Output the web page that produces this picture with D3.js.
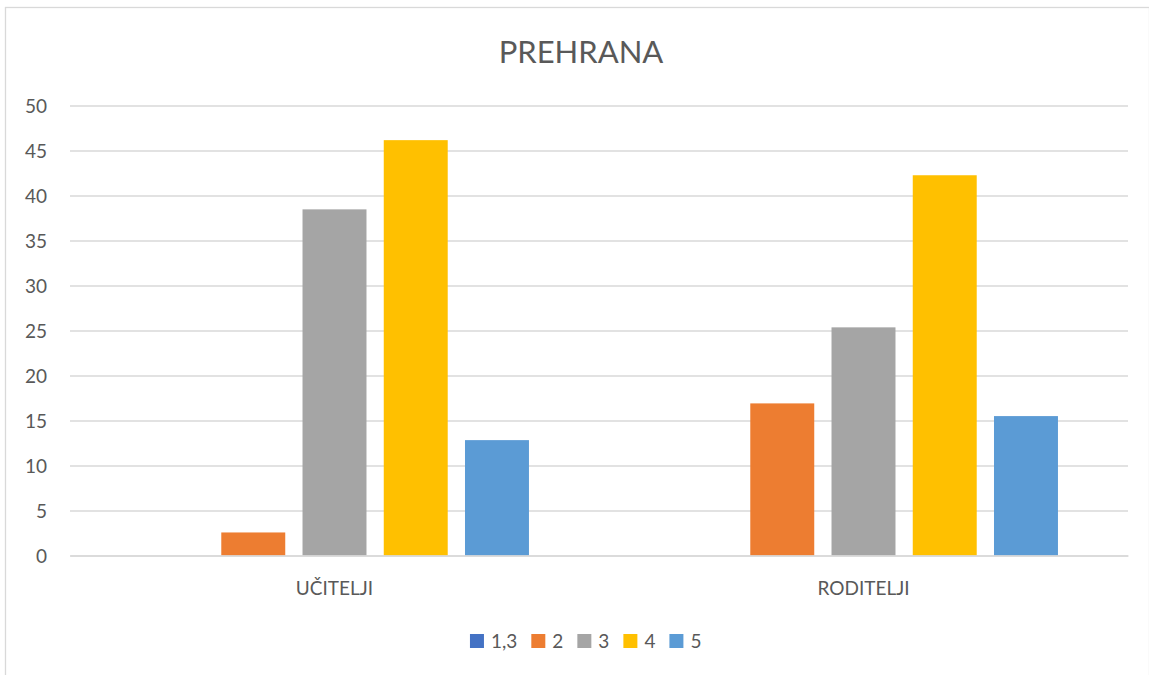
<!DOCTYPE html>
<html>
<head>
<meta charset="utf-8">
<script src="https://cdn.jsdelivr.net/npm/d3@7"></script>
<style>
  html, body { margin: 0; padding: 0; background: #ffffff; }
  svg { display: block; font-family: Lato, "Open Sans", sans-serif; }
</style>
</head>
<body>
<svg id="chart" width="1149" height="675"></svg>
<script>
// ---- data ----
const title = "PREHRANA";
const categories = ["UČITELJI", "RODITELJI"];
const seriesNames = ["1,3", "2", "3", "4", "5"];
const valuesUcitelji = [0, 2.56, 38.46, 46.15, 12.82];
const valuesRoditelji = [0, 16.90, 25.35, 42.25, 15.49];
const yTicks = [0, 5, 10, 15, 20, 25, 30, 35, 40, 45, 50];
const seriesColors = ["#4472C4", "#ED7D31", "#A5A5A5", "#FFC000", "#5B9BD5"];

const table = categories.map((c, i) => ({
  category: c,
  values: [valuesUcitelji, valuesRoditelji][i]
}));

// ---- layout ----
const svg = d3.select("#chart");
const W = 1149, H = 675;
const plot = { left: 70, right: 1128, top: 105.5, bottom: 555.5 };
const textColor = "#595959";
const gridColor = "#d9d9d9";

// chart border
svg.append("rect")
  .attr("x", 5.5).attr("y", 7.5)
  .attr("width", 1144).attr("height", 700)
  .attr("fill", "#ffffff")
  .attr("stroke", gridColor).attr("stroke-width", 1.3);

// title
svg.append("text")
  .attr("x", 581).attr("y", 62.5)
  .attr("text-anchor", "middle")
  .attr("fill", textColor)
  .attr("font-size", 31)
  .text(title);

// scales
const y = d3.scaleLinear().domain([0, 50]).range([plot.bottom, plot.top]);
const x0 = d3.scaleBand().domain(categories).range([plot.left, plot.right]).padding(0);
const bw = x0.bandwidth();
const barW = bw / (5 + 4 * 0.27 + 2.19);
const halfGap = barW * 2.19 / 2;
const x1 = d3.scaleBand().domain(seriesNames)
  .range([halfGap, bw - halfGap])
  .paddingInner(0.27 / 1.27).paddingOuter(0);

// gridlines
const yAxis = d3.axisLeft(y).tickValues(yTicks)
  .tickSize(-(plot.right - plot.left)).tickPadding(23);
const gy = svg.append("g").attr("transform", `translate(${plot.left},0)`).call(yAxis);
gy.select(".domain").remove();
gy.selectAll(".tick line").attr("stroke", gridColor).attr("stroke-width", 1.3);
gy.selectAll(".tick text")
  .attr("fill", textColor)
  .attr("font-size", 19)
  .attr("font-family", "Lato, 'Open Sans', sans-serif")
  .attr("dy", "0.36em");

// bars
const groups = svg.append("g").selectAll("g").data(table).join("g")
  .attr("transform", d => `translate(${x0(d.category)},0)`);
groups.selectAll("rect")
  .data(d => d.values.map((v, i) => ({ name: seriesNames[i], value: v, color: seriesColors[i] })))
  .join("rect")
  .attr("x", d => x1(d.name))
  .attr("width", x1.bandwidth())
  .attr("y", d => y(d.value))
  .attr("height", d => y(0) - y(d.value))
  .attr("fill", d => d.color);

// x axis line + category labels
const xAxis = d3.axisBottom(x0).tickSize(0).tickPadding(0);
const gx = svg.append("g").attr("transform", `translate(0,${plot.bottom})`).call(xAxis);
gx.select(".domain").attr("stroke", gridColor).attr("stroke-width", 1.3);
gx.selectAll(".tick text")
  .attr("fill", textColor)
  .attr("font-size", 19)
  .attr("font-family", "Lato, 'Open Sans', sans-serif")
  .attr("dy", 0)
  .attr("y", 39.5);

// legend
const legend = svg.append("g");
const sq = 14, gapSqText = 7, gapItems = 14, legendBaseline = 647.5;
let cx = 0;
const items = seriesNames.map((name, i) => {
  const g = legend.append("g");
  g.append("rect").attr("x", 0).attr("y", legendBaseline - 13.5)
    .attr("width", sq).attr("height", sq).attr("fill", seriesColors[i]);
  const t = g.append("text").attr("x", sq + gapSqText).attr("y", legendBaseline)
    .attr("fill", textColor).attr("font-size", 19).text(name);
  const w = sq + gapSqText + t.node().getComputedTextLength();
  g.attr("transform", `translate(${cx},0)`);
  cx += w + gapItems;
  return g;
});
const totalW = cx - gapItems;
legend.attr("transform", `translate(${585.7 - totalW / 2},0)`);
</script>
</body>
</html>
